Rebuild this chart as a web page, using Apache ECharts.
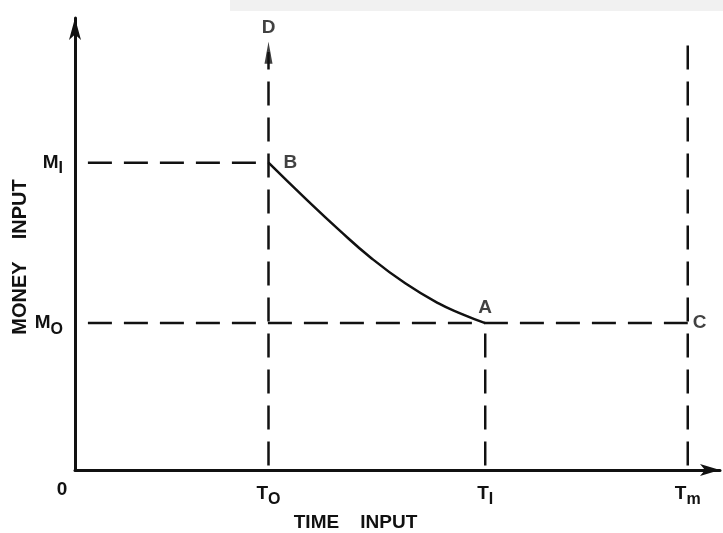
<!DOCTYPE html>
<html>
<head>
<meta charset="utf-8">
<script src="https://cdn.jsdelivr.net/npm/echarts@6/dist/echarts.min.js"></script>
<style>
html, body { margin: 0; padding: 0; background: #fff; }
#main { width: 723px; height: 533px; }
</style>
</head>
<body>
<div id="main"></div>
<script>
// positions on the time / money axes (arbitrary units)
var timeTicks = [0, 3, 6.36, 9.5];
var timeLabels = ['0', 'T{s|O}', 'T{s|I}', 'T{s|m}'];
var moneyTicks = [3.25, 6.8];
var moneyLabels = ['M{s|O}', 'M{s|I}'];

// curve B -> A
var curveX = [3, 3.57, 4.08, 4.6, 5.12, 5.63, 6.0, 6.36];
var curveY = [6.8, 6.01, 5.33, 4.68, 4.13, 3.69, 3.45, 3.25];

// lettered points
var pointNames = ['B', 'A', 'C', 'D'];
var pointX = [3, 6.36, 9.5, 3];
var pointY = [6.8, 3.25, 3.25, 9.5];
var pointPos = ['right', 'top', 'right', 'top'];
var pointGap = [15, 6, 5, 3];

var black = '#111';
var font = 'Liberation Sans';

function dashed(data) {
	return {
		type : 'line',
		data : data,
		symbol : 'none',
		silent : true,
		lineStyle : { color : black, width : 2.5, type : [24, 12] },
		z : 2
	};
}

var myChart = echarts.init(document.getElementById('main'));
var curve = [];
for (var i = 0; i < curveX.length; i++) {
	curve.push([curveX[i], curveY[i]]);
}
var points = [];
for (var i = 0; i < pointNames.length; i++) {
	points.push({
		value : [pointX[i], pointY[i]],
		label : { show : true, formatter : pointNames[i], position : pointPos[i], distance : pointGap[i] }
	});
}
var subRich = {
	s : { fontSize : 16, fontFamily : font, fontWeight : 'bold', color : black, padding : [12, 0, 0, 0], verticalAlign : 'bottom' },
	o : { fontSize : 19, fontFamily : font, fontWeight : 'bold', color : black, padding : [0, 26, 0, 0] }
};

var option = {
	animation : false,
	grid : { left : 75, right : 3, top : 18, bottom : 63, outerBoundsMode : 'none' },
	graphic : [{
		type : 'rect',
		shape : { x : 230, y : 0, width : 493, height : 11 },
		style : { fill : '#f1f1f1' },
		z : -1
	}],
	xAxis : {
		type : 'value',
		min : 0,
		max : 10,
		splitLine : { show : false },
		axisLine : {
			lineStyle : { color : black, width : 3 },
			symbol : ['none', 'arrow'],
			symbolSize : [9, 20]
		},
		axisTick : { show : false },
		axisLabel : {
			customValues : timeTicks,
			formatter : function (v) {
				var i = timeTicks.indexOf(v);
				return i == 0 ? '{o|0}' : timeLabels[i];
			},
			color : black,
			fontSize : 19,
			fontWeight : 'bold',
			fontFamily : font,
			margin : 10,
			rich : subRich
		},
		name : 'TIME    INPUT',
		nameLocation : 'middle',
		nameGap : 40,
		nameTextStyle : { color : black, fontSize : 19, fontWeight : 'bold', fontFamily : font, padding : [0, 84, 0, 0] }
	},
	yAxis : {
		type : 'value',
		min : 0,
		max : 10,
		splitLine : { show : false },
		axisLine : {
			lineStyle : { color : black, width : 3 },
			symbol : ['none', 'arrow'],
			symbolSize : [9, 22]
		},
		axisTick : { show : false },
		axisLabel : {
			customValues : moneyTicks,
			formatter : function (v) {
				return moneyLabels[moneyTicks.indexOf(v)];
			},
			color : black,
			fontSize : 19,
			fontWeight : 'bold',
			fontFamily : font,
			margin : 12,
			rich : subRich
		},
		name : 'MONEY    INPUT',
		nameLocation : 'middle',
		nameRotate : 90,
		nameGap : 45,
		nameMoveOverlap : false,
		nameTextStyle : { color : black, fontSize : 20, fontWeight : 'bold', fontFamily : font, padding : [0, 26, 0, 0] }
	},
	series : [
		dashed([[0.2, moneyTicks[1]], [timeTicks[1], moneyTicks[1]]]),
		dashed([[0.2, moneyTicks[0]], [timeTicks[3], moneyTicks[0]]]),
		dashed([[timeTicks[1], 0.1], [timeTicks[1], 9.25]]),
		dashed([[timeTicks[2], 0.1], [timeTicks[2], moneyTicks[0]]]),
		dashed([[timeTicks[3], 0.1], [timeTicks[3], 9.5]]),
		{
			type : 'line',
			data : curve,
			smooth : 0.5,
			symbol : 'none',
			silent : true,
			lineStyle : { color : black, width : 2.5 },
			z : 3
		},
		{
			// arrowhead on the T0 line
			type : 'scatter',
			data : [[timeTicks[1], 9.23]],
			symbol : 'triangle',
			symbolSize : [8, 22],
			itemStyle : { color : black },
			silent : true,
			z : 4
		},
		{
			type : 'scatter',
			data : points,
			symbolSize : 0,
			silent : true,
			label : { color : black, fontSize : 19, fontWeight : 'bold', fontFamily : font },
			z : 5
		}
	]
};
myChart.setOption(option);
</script>
</body>
</html>
